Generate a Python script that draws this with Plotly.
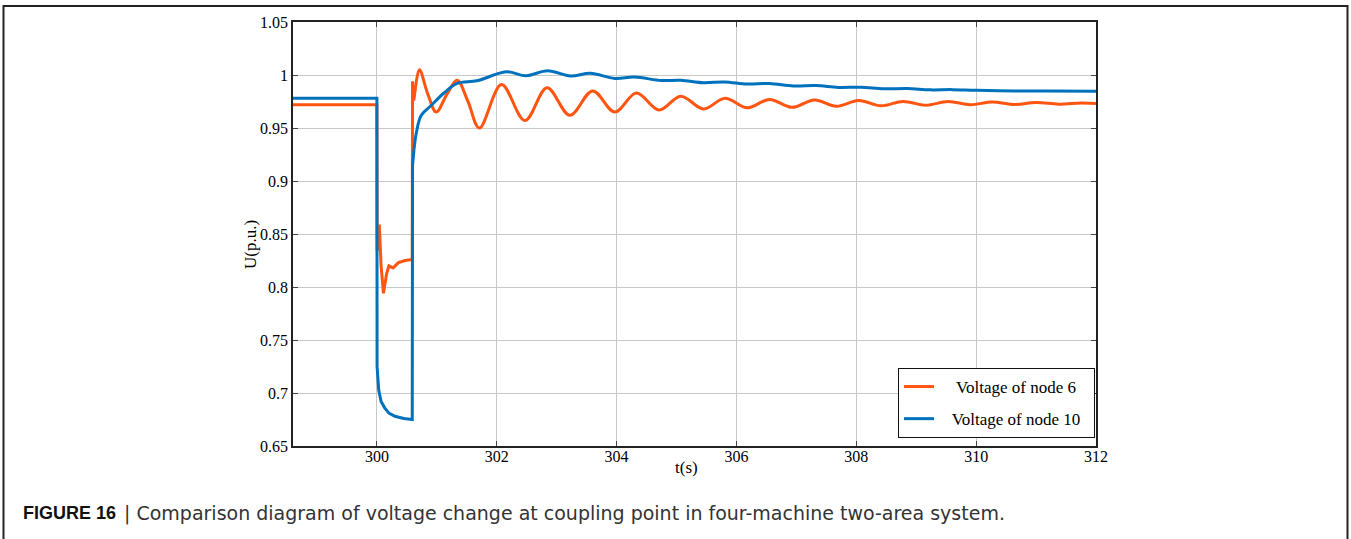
import plotly.graph_objects as go

# ---------------- data ----------------
# Voltage of node 6 : pre-fault / fault part (drawn piecewise linear)
t6_fault = [298.6, 300.0, 300.004, 300.02, 300.04, 300.07, 300.11, 300.16, 300.2,
            300.27, 300.36, 300.47, 300.59, 300.595, 300.615, 300.64]
u6_fault = [0.972, 0.972, 0.834, 0.845, 0.859, 0.820, 0.794, 0.812, 0.820,
            0.818, 0.823, 0.825, 0.826, 0.994, 0.976, 0.986]
# Voltage of node 6 : post-fault oscillation (smoothed)
t6_post = [300.64, 300.71, 300.85, 300.99, 301.17, 301.34, 301.52, 301.71, 302.08,
           302.47, 302.84, 303.22, 303.6, 303.97, 304.33, 304.71, 305.07, 305.45,
           305.81, 306.18, 306.55, 306.93, 307.3, 307.67, 308.04, 308.41, 308.78,
           309.16, 309.53, 309.9, 310.27, 310.64, 311.0, 311.38, 311.75, 312.0]
u6_post = [0.986, 1.005, 0.982, 0.965, 0.982, 0.995, 0.975, 0.950, 0.991,
           0.957, 0.988, 0.962, 0.985, 0.965, 0.983, 0.967, 0.980, 0.968,
           0.978, 0.969, 0.977, 0.9695, 0.9765, 0.9705, 0.976, 0.971, 0.975,
           0.9715, 0.975, 0.972, 0.9745, 0.9722, 0.974, 0.9725, 0.9735, 0.9731]

# Voltage of node 10 : pre-fault / fault part
t10_fault = [298.6, 300.0, 300.003, 300.03, 300.07, 300.13, 300.2, 300.3, 300.45,
             300.59, 300.595, 300.62]
u10_fault = [0.978, 0.978, 0.725, 0.703, 0.692, 0.686, 0.681, 0.678, 0.676,
             0.675, 0.915, 0.930]
# Voltage of node 10 : post-fault recovery (smoothed)
t10_post = [300.62, 300.66, 300.74, 300.9, 301.12, 301.34, 301.67, 302.16, 302.49,
            302.85, 303.23, 303.56, 303.97, 304.3, 304.75, 305.07, 305.45, 305.8,
            306.18, 306.55, 306.95, 307.33, 307.7, 308.08, 308.46, 308.85, 309.23,
            309.6, 310.0, 310.66, 311.2, 312.0]
u10_post = [0.930, 0.946, 0.962, 0.971, 0.983, 0.992, 0.9945, 1.003, 0.9993,
            1.004, 0.999, 1.0016, 0.9968, 0.998, 0.9948, 0.995, 0.9927, 0.9935,
            0.9915, 0.992, 0.9897, 0.990, 0.9883, 0.9885, 0.987, 0.9873, 0.986,
            0.9862, 0.9855, 0.985, 0.9848, 0.9846]

series_names = ["Voltage of node 6", "Voltage of node 10"]
x_ticks = [300, 302, 304, 306, 308, 310, 312]
x_tick_labels = ["300", "302", "304", "306", "308", "310", "312"]
y_ticks = [0.65, 0.7, 0.75, 0.8, 0.85, 0.9, 0.95, 1.0, 1.05]
y_tick_labels = ["0.65", "0.7", "0.75", "0.8", "0.85", "0.9", "0.95", "1", "1.05"]
x_title = "t(s)"
y_title = "U(p.u.)"
caption_bold = "FIGURE 16"
caption_text = "| Comparison diagram of voltage change at coupling point in four-machine two-area system."

# ---------------- styling ----------------
ORANGE = "#ff5511"
BLUE = "#0072bd"
SERIF = "Liberation Serif, Times New Roman, serif"
SANS = "Liberation Sans, Arial, sans-serif"
WIDE_SANS = "DejaVu Sans, sans-serif"
W, H = 1351, 539
ML, MR, MT, MB = 293, 255, 22, 93
PW, PH = W - ML - MR, H - MT - MB
NB = "\u00a0"


def px_x(px):
    return (px - ML) / PW


def px_y(py):
    return (H - MB - py) / PH


fig = go.Figure()
fig.add_trace(go.Scatter(x=t6_fault, y=u6_fault, mode="lines", line=dict(color=ORANGE, width=3),
                         legendgroup="n6", showlegend=False, hoverinfo="skip"))
fig.add_trace(go.Scatter(x=t6_post, y=u6_post, mode="lines",
                         name=NB * 4 + series_names[0] + NB * 2,
                         line=dict(color=ORANGE, width=3, shape="spline", smoothing=1.0),
                         legendgroup="n6"))
fig.add_trace(go.Scatter(x=t10_fault, y=u10_fault, mode="lines", line=dict(color=BLUE, width=3),
                         legendgroup="n10", showlegend=False, hoverinfo="skip"))
fig.add_trace(go.Scatter(x=t10_post, y=u10_post, mode="lines",
                         name=NB * 3 + series_names[1] + NB * 2,
                         line=dict(color=BLUE, width=3, shape="spline", smoothing=1.0),
                         legendgroup="n10"))

axis_common = dict(showgrid=True, gridcolor="#c8c8c8", gridwidth=1, zeroline=False,
                   showline=True, linecolor="#222222", linewidth=1.5, mirror="allticks",
                   ticks="inside", ticklen=5, tickcolor="#444444",
                   tickfont=dict(family=SERIF, size=16, color="black"))

fig.update_xaxes(range=[298.6, 312], tickvals=x_ticks, ticktext=x_tick_labels,
                 ticklabelstandoff=-5, **axis_common)
fig.update_yaxes(range=[0.65, 1.05], tickvals=y_ticks, ticktext=y_tick_labels, **axis_common)

fig.update_layout(
    width=W, height=H,
    margin=dict(l=ML, r=MR, t=MT, b=MB, pad=0),
    paper_bgcolor="white", plot_bgcolor="white",
    showlegend=True,
    legend=dict(x=px_x(898), y=px_y(368), xanchor="left", yanchor="top",
                bgcolor="white", bordercolor="#111111", borderwidth=1,
                font=dict(family=SERIF, size=17, color="black"),
                traceorder="grouped", tracegroupgap=7),
    annotations=[
        dict(text=x_title, x=px_x(686), y=px_y(467), xref="paper", yref="paper",
             showarrow=False, font=dict(family=SERIF, size=17, color="black"),
             xanchor="center", yanchor="middle"),
        dict(text=y_title, x=px_x(250), y=px_y(245), xref="paper", yref="paper",
             showarrow=False, textangle=-90, font=dict(family=SERIF, size=17, color="black"),
             xanchor="center", yanchor="middle"),
        dict(text="<b>" + caption_bold + "</b>",
             x=px_x(21), y=px_y(513), xref="paper", yref="paper",
             showarrow=False, font=dict(family=SANS, size=18, color="#111111"),
             xanchor="left", yanchor="middle"),
        dict(text=caption_text,
             x=px_x(122), y=px_y(513), xref="paper", yref="paper",
             showarrow=False, font=dict(family=WIDE_SANS, size=19, color="#333333"),
             xanchor="left", yanchor="middle"),
    ],
    shapes=[
        dict(type="rect", xref="paper", yref="paper",
             x0=px_x(3.5), x1=px_x(1347.5), y0=px_y(560), y1=px_y(6),
             line=dict(color="#222222", width=2), fillcolor="rgba(0,0,0,0)", layer="below"),
    ],
)

fig.write_html("out.html",
               config={"displayModeBar": False},
               post_script="document.body.style.margin='0';document.body.style.overflow='hidden';")
